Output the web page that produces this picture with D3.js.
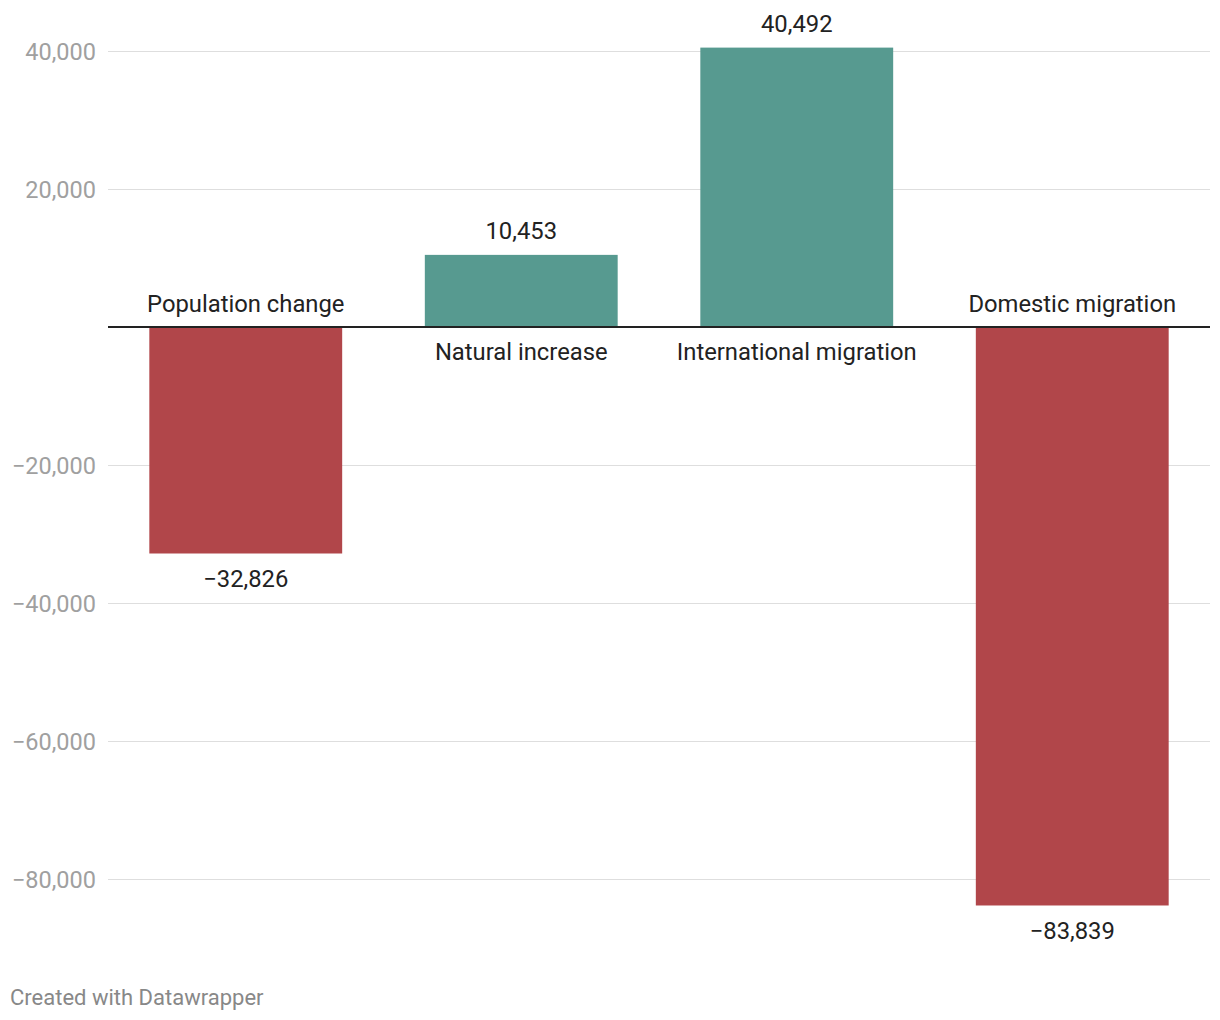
<!DOCTYPE html>
<html>
<head>
<meta charset="utf-8">
<script src="https://cdn.jsdelivr.net/npm/d3@7"></script>
<style>
  body { margin: 0; background: #fff; }
  svg { display: block; font-family: Roboto, "Noto Sans", sans-serif; }
</style>
</head>
<body>
<svg id="chart" width="1220" height="1020"></svg>
<script>
const categories = ["Population change", "Natural increase", "International migration", "Domestic migration"];
const values = [-32826, 10453, 40492, -83839];
const tickValues = [40000, 20000, -20000, -40000, -60000, -80000];
const colorPos = "#579a90";
const colorNeg = "#b1464a";

const svg = d3.select("#chart");
const fmt = v => (v < 0 ? "\u2212" : "") + d3.format(",")(Math.abs(v));

const x = d3.scaleBand().domain(categories).range([108, 1210]).paddingInner(0.3).paddingOuter(0.15);
const y = d3.scaleLinear().domain([-80000, 40000]).range([879, 51]);

// y axis labels
const yAxis = d3.axisLeft(y).tickValues(tickValues).tickSize(0).tickPadding(0).tickFormat(fmt);
const gAxis = svg.append("g").attr("transform", "translate(96,0)").call(yAxis);
gAxis.select(".domain").remove();
gAxis.selectAll("text").attr("fill", "#a0a0a0").attr("font-size", 23.5).attr("font-family", "Roboto").attr("dy", "0.35em");

// gridlines
svg.append("g").selectAll("line").data(tickValues).join("line")
  .attr("x1", 108).attr("x2", 1210)
  .attr("y1", d => Math.round(y(d)) + 0.5).attr("y2", d => Math.round(y(d)) + 0.5)
  .attr("stroke", "#dedede").attr("stroke-width", 1);

// bars
svg.append("g").selectAll("rect").data(values).join("rect")
  .attr("x", (d, i) => x(categories[i]))
  .attr("width", x.bandwidth())
  .attr("y", d => y(Math.max(0, d)))
  .attr("height", d => Math.abs(y(d) - y(0)))
  .attr("fill", d => d < 0 ? colorNeg : colorPos);

// zero line
svg.append("line").attr("x1", 108).attr("x2", 1210)
  .attr("y1", y(0)).attr("y2", y(0))
  .attr("stroke", "#222").attr("stroke-width", 2);

// value labels
svg.append("g").selectAll("text").data(values).join("text")
  .attr("x", (d, i) => x(categories[i]) + x.bandwidth() / 2)
  .attr("y", d => d < 0 ? y(d) + 33.5 : y(d) - 15.5)
  .attr("text-anchor", "middle")
  .attr("font-size", 23.8).attr("fill", "#222")
  .text(fmt);

// category labels
svg.append("g").selectAll("text").data(values).join("text")
  .attr("x", (d, i) => x(categories[i]) + x.bandwidth() / 2)
  .attr("y", d => d < 0 ? y(0) - 15.5 : y(0) + 32.5)
  .attr("text-anchor", "middle")
  .attr("font-size", 23.8).attr("fill", "#222")
  .text((d, i) => categories[i]);

// footer
svg.append("text").attr("x", 10).attr("y", 1004.5)
  .attr("font-size", 22).attr("fill", "#888")
  .text("Created with Datawrapper");
</script>
</body>
</html>
